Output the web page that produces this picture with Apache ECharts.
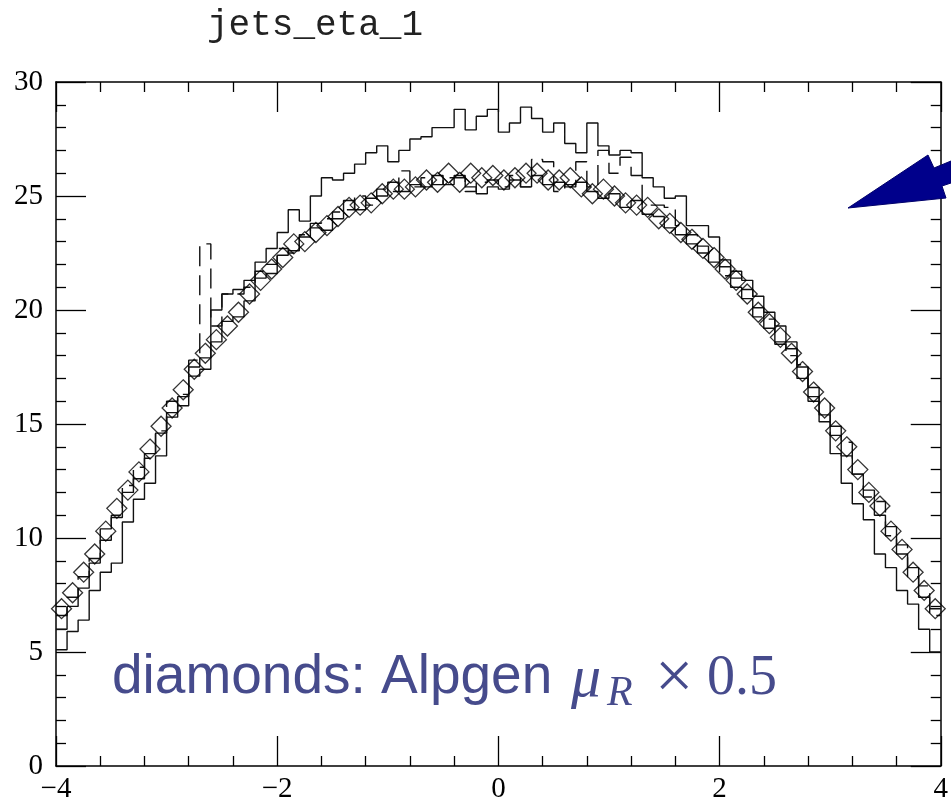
<!DOCTYPE html>
<html>
<head>
<meta charset="utf-8">
<script src="https://cdn.jsdelivr.net/npm/echarts@6/dist/echarts.min.js"></script>
<style>
html, body { margin: 0; padding: 0; background: #fff; }
#main { width: 951px; height: 804px; }
</style>
</head>
<body>
<div id="main"></div>
<script>
// 80 bins de -4 a 4 (largeur 0.1)
var binStart = -4;
var binWidth = 0.1;
var xTicks = [-4, -2, 0, 2, 4];
var yTicks = [0, 5, 10, 15, 20, 25, 30];

// histogramme plein (le plus haut au centre)
var histHigh = [5.1, 5.9, 6.4, 7.7, 8.5, 8.9, 10.7, 11.7, 12.4, 13.6,
    15.3, 15.8, 17.1, 17.4, 20.0, 20.7, 20.9, 21.3, 22.1, 22.7,
    23.4, 24.4, 23.9, 25.0, 25.8, 25.7, 26.0, 26.4, 26.9, 27.2,
    26.5, 27.0, 27.5, 27.6, 28.0, 28.0, 28.8, 27.9, 28.5, 28.8,
    27.8, 28.2, 28.9, 28.4, 27.8, 28.2, 27.3, 26.9, 28.2, 27.2,
    26.8, 27.0, 26.9, 25.8, 25.4, 24.9, 25.0, 23.7, 23.7, 23.2,
    22.2, 21.7, 21.3, 20.6, 19.9, 19.3, 18.6, 17.5, 16.0, 15.1,
    13.7, 12.4, 11.5, 10.8, 9.3, 8.7, 7.7, 7.1, 6.0, 5.0];

// histogramme plein proche des losanges
var histLow = [6.0, 7.0, 7.8, 8.9, 10.4, 10.9, 12.0, 12.6, 13.7, 14.6,
    15.5, 16.2, 17.5, 17.9, 18.6, 19.5, 19.7, 20.4, 21.4, 21.6,
    22.4, 22.6, 23.2, 23.6, 23.5, 24.0, 24.8, 24.4, 24.9, 25.0,
    25.6, 25.2, 25.5, 25.4, 25.9, 25.5, 25.9, 25.4, 25.1, 25.4,
    25.3, 25.7, 25.4, 25.9, 25.5, 25.6, 25.4, 25.6, 25.2, 24.9,
    25.1, 24.5, 24.8, 24.2, 24.1, 23.6, 23.3, 22.9, 22.8, 22.1,
    21.9, 21.0, 20.5, 20.1, 19.2, 18.6, 18.3, 17.0, 16.6, 15.4,
    14.9, 13.6, 12.8, 12.1, 11.0, 10.5, 9.3, 8.7, 7.4, 6.9];

// histogramme en tirets
var histDash = [6.6, 7.4, 8.3, 9.1, 9.9, 11.0, 12.3, 13.1, 13.5, 14.7,
    16.0, 16.3, 17.8, 22.9, 19.3, 20.7, 20.7, 21.0, 21.7, 22.0,
    22.7, 22.5, 23.3, 23.8, 24.0, 24.3, 24.4, 25.0, 24.6, 25.3,
    25.2, 26.1, 25.4, 25.8, 25.5, 25.8, 25.8, 25.2, 25.6, 25.7,
    25.4, 25.9, 25.4, 26.6, 26.5, 25.2, 25.5, 26.5, 25.4, 27.0,
    26.0, 26.7, 25.9, 24.6, 24.6, 24.5, 23.7, 23.3, 22.5, 22.5,
    21.5, 21.4, 20.9, 19.7, 19.6, 18.5, 18.0, 17.6, 16.2, 15.9,
    14.5, 14.2, 12.8, 11.8, 11.6, 10.1, 9.7, 8.3, 7.9, 6.6];

// losanges : Alpgen muR x 0.5
var diamonds = [6.9, 7.6, 8.5, 9.3, 10.3, 11.3, 12.1, 12.9, 13.9, 14.9,
    15.7, 16.5, 17.4, 18.1, 18.7, 19.3, 19.9, 20.7, 21.3, 21.8,
    22.3, 22.9, 23.0, 23.4, 23.7, 24.1, 24.5, 24.6, 24.7, 25.1,
    25.3, 25.3, 25.4, 25.7, 25.6, 26.0, 25.6, 26.0, 25.8, 25.9,
    25.7, 25.8, 26.0, 26.0, 25.7, 25.7, 25.8, 25.4, 25.1, 25.3,
    25.0, 24.7, 24.6, 24.5, 24.0, 23.8, 23.4, 23.1, 22.7, 22.3,
    21.8, 21.3, 20.7, 19.9, 19.4, 18.8, 18.1, 17.3, 16.4, 15.7,
    14.7, 14.0, 13.0, 12.0, 11.4, 10.3, 9.5, 8.5, 7.7, 6.9];

function histPairs(vals) {
    var out = [];
    for (var i = 0; i < vals.length; i++) {
        out.push([binStart + i * binWidth, vals[i]]);
    }
    out.push([binStart + vals.length * binWidth, vals[vals.length - 1]]);
    return out;
}

function centerPairs(vals) {
    var out = [];
    for (var i = 0; i < vals.length; i++) {
        out.push([binStart + (i + 0.5) * binWidth, vals[i]]);
    }
    return out;
}

function minus(v) {
    return String(v).replace('-', '\u2212');
}

var tickStyle = {color: '#000', width: 1.3};
var labelFont = 'Liberation Serif';
var textBlue = '#464b8c';

function xAxisDef(pos, showLabel) {
    return {
        type: 'value', position: pos,
        min: xTicks[0], max: xTicks[xTicks.length - 1], interval: 2,
        axisLine: {show: true, onZero: false, lineStyle: {color: '#000', width: 1.5}},
        axisTick: {show: true, inside: true, length: 30, lineStyle: tickStyle},
        minorTick: {show: true, splitNumber: 5, length: 10, lineStyle: tickStyle},
        splitLine: {show: false},
        axisLabel: {show: showLabel, formatter: minus, fontFamily: labelFont, fontSize: 29,
            color: '#000', margin: 9, showMinLabel: true, showMaxLabel: true}
    };
}

function yAxisDef(pos, showLabel) {
    return {
        type: 'value', position: pos,
        min: yTicks[0], max: yTicks[yTicks.length - 1], interval: 5,
        axisLine: {show: true, onZero: false, lineStyle: {color: '#000', width: 1.5}},
        axisTick: {show: true, inside: true, length: 30, lineStyle: tickStyle},
        minorTick: {show: true, splitNumber: 5, length: 10, lineStyle: tickStyle},
        splitLine: {show: false},
        axisLabel: {show: showLabel, fontFamily: labelFont, fontSize: 29, color: '#000', margin: 13}
    };
}

var myChart = echarts.init(document.getElementById('main'));

var option = {
    animation: false,
    backgroundColor: '#fff',
    title: {
        text: 'jets_eta_1',
        left: 207, top: 7, padding: 0,
        textStyle: {fontFamily: 'Liberation Mono', fontSize: 36, fontWeight: 'normal', color: '#222'}
    },
    grid: {left: 56, right: 6, top: 82, bottom: 38},
    xAxis: [xAxisDef('bottom', true), xAxisDef('top', false)],
    yAxis: [yAxisDef('left', true), yAxisDef('right', false)],
    series: [
        {
            name: 'high', type: 'line', step: 'end', showSymbol: false,
            data: histPairs(histHigh),
            lineStyle: {color: '#111', width: 1.4}
        },
        {
            name: 'low', type: 'line', step: 'end', showSymbol: false,
            data: histPairs(histLow),
            lineStyle: {color: '#111', width: 1.4}
        },
        {
            name: 'dash', type: 'line', step: 'end', showSymbol: false,
            data: histPairs(histDash),
            lineStyle: {color: '#111', width: 1.4, type: [20, 9]}
        },
        {
            name: 'diamonds', type: 'scatter', symbol: 'diamond', symbolSize: 20,
            data: centerPairs(diamonds),
            itemStyle: {color: 'rgba(0,0,0,0)', borderColor: '#000', borderWidth: 1.3},
            z: 5
        }
    ],
    graphic: [
        {
            type: 'polygon', z: 100,
            shape: {points: [[848, 208], [928, 155], [934, 168], [951, 161], [951, 183], [942, 186], [946, 198]]},
            style: {fill: '#00008b', stroke: '#00006a', lineWidth: 1}
        },
        {
            type: 'text', z: 100, x: 112, y: 678,
            style: {text: 'diamonds: Alpgen', font: '55px "Liberation Sans"', fill: textBlue, verticalAlign: 'middle'}
        },
        {
            type: 'text', z: 100, x: 571, y: 680,
            style: {text: '\u03bc', font: 'italic 60px "Liberation Serif"', fill: textBlue, verticalAlign: 'middle'}
        },
        {
            type: 'text', z: 100, x: 607, y: 694,
            style: {text: 'R', font: 'italic 42px "Liberation Serif"', fill: textBlue, verticalAlign: 'middle'}
        },
        {
            type: 'text', z: 100, x: 655, y: 680,
            style: {text: '\u00d7', font: '68px "Liberation Serif"', fill: textBlue, verticalAlign: 'middle'}
        },
        {
            type: 'text', z: 100, x: 707, y: 679,
            style: {text: '0.5', font: '56px "Liberation Serif"', fill: textBlue, verticalAlign: 'middle'}
        }
    ]
};
myChart.setOption(option);
</script>
</body>
</html>
